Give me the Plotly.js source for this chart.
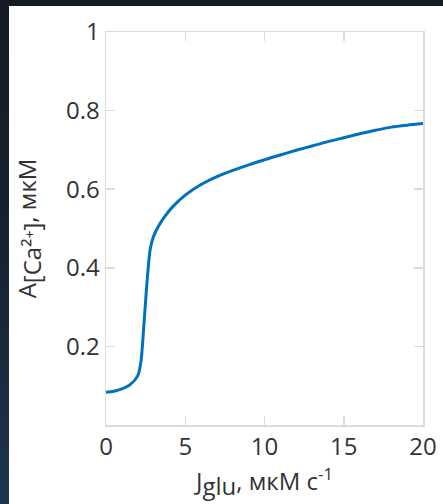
<!DOCTYPE html>
<html>
<head>
<meta charset="utf-8">
<script src="https://cdn.plot.ly/plotly-3.0.1.min.js"></script>
<style>
html,body{margin:0;padding:0;width:443px;height:504px;overflow:hidden;
background:linear-gradient(180deg,#141b24 0%,#17222f 50%,#1c3550 100%);}
#chart{position:absolute;left:9px;top:6px;width:434px;height:498px;}
</style>
</head>
<body>
<div id="chart"></div>
<script>
const jglu = [0, 0.5, 1, 1.5, 2, 2.2, 2.4, 2.6, 2.8, 3, 3.3, 3.7, 4.2, 5, 6, 7, 8, 9, 10, 11, 12, 13, 14, 15, 16, 17, 18, 19, 20];
const ampCa = [0.083, 0.086, 0.092, 0.102, 0.125, 0.16, 0.26, 0.37, 0.45, 0.48, 0.505, 0.53, 0.555, 0.585, 0.612, 0.632, 0.648, 0.662, 0.675, 0.687, 0.699, 0.71, 0.721, 0.731, 0.741, 0.75, 0.758, 0.763, 0.767];
const xTicks = [0, 5, 10, 15, 20];
const yTicks = [0.2, 0.4, 0.6, 0.8, 1];
const yTickText = ['0.2', '0.4', '0.6', '0.8', '1'];

const tickFont = {family: 'Open Sans, sans-serif', size: 24, color: '#333'};
const axisCommon = {
  showline: true, linecolor: '#dcdcdc', linewidth: 1.5, mirror: 'ticks',
  ticks: 'inside', ticklen: 9, tickwidth: 1.5, tickcolor: '#dcdcdc',
  showgrid: false, zeroline: false, tickfont: tickFont, automargin: false
};

Plotly.newPlot('chart', [{
  x: jglu, y: ampCa, type: 'scatter', mode: 'lines',
  line: {color: '#0072BD', width: 3, shape: 'spline', smoothing: 0.8},
  hoverinfo: 'skip'
}], {
  width: 434, height: 498,
  paper_bgcolor: '#ffffff', plot_bgcolor: '#ffffff',
  margin: {l: 97, r: 20, t: 26, b: 79},
  showlegend: false,
  xaxis: Object.assign({}, axisCommon, {
    range: [0, 20], tickvals: xTicks, ticktext: xTicks.map(String),
    title: {text: 'J<sub><span style="font-size:24px">glu</span></sub>, мкМ с<sup>-1</sup>', font: tickFont, standoff: 2}
  }),
  yaxis: Object.assign({}, axisCommon, {
    range: [0, 1], tickvals: yTicks, ticktext: yTickText,
    title: {text: 'A<sub><span style="font-size:24px">[Ca²⁺]</span></sub>, мкМ', font: tickFont, standoff: 22}
  })
}, {displayModeBar: false, staticPlot: true});
</script>
</body>
</html>
